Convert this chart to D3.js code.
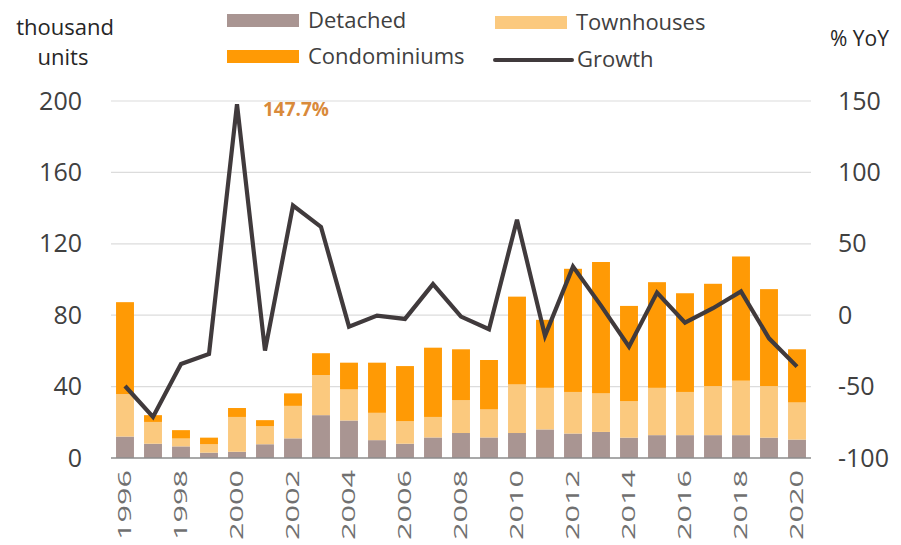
<!DOCTYPE html>
<html>
<head>
<meta charset="utf-8">
<script src="https://cdn.jsdelivr.net/npm/d3@7"></script>
<style>
  body { margin: 0; background: #fff; }
  text { font-family: "Open Sans", sans-serif; }
</style>
</head>
<body>
<div id="chart"></div>
<script>
// ============ Data ============
var years = d3.range(1996, 2021).map(String);
var yearTicks = ["1996","1998","2000","2002","2004","2006","2008","2010","2012","2014","2016","2018","2020"];

// thousand units
var detached = [12, 8, 6.5, 3, 3.5, 7.7, 11, 24, 21, 10, 8, 11.5, 14, 11.5, 14, 16, 13.7, 14.6, 11.4, 12.8, 12.8, 12.8, 12.8, 11.4, 10.3];
var townhouses = [23.8, 12.2, 4.4, 4.7, 19.5, 10.1, 18.2, 22.5, 17.4, 15.3, 12.6, 11.5, 18.4, 15.7, 27.2, 23.3, 23.3, 21.6, 20.4, 26.5, 24.2, 27.5, 30.5, 28.9, 20.8];
var condominiums = [51.5, 3.8, 4.7, 3.7, 5, 3.4, 7, 12.2, 15, 28.1, 30.9, 38.8, 28.5, 27.7, 49.2, 38.1, 69, 73.6, 53.4, 59.2, 55.3, 57.3, 69.6, 54.3, 29.8];

// % YoY
var growth = [-49.6, -71.2, -34.2, -27.2, 147.7, -24.8, 76.8, 61.8, -8, -0.3, -2.6, 21.8, -1, -9.8, 66.9, -14.5, 34, 6.7, -22, 15.9, -5.2, 4.9, 16.6, -16.2, -36];

var leftTicks = [0, 40, 80, 120, 160, 200];
var rightTicks = [-100, -50, 0, 50, 100, 150];
var seriesNames = ["Detached", "Townhouses", "Condominiums"];
var seriesColors = ["#a99592", "#fbc97e", "#ff9a05"];
var lineColor = "#403a3c";

//============ Set up chart =====================
var svgWidth = 901;
var svgHeight = 545;

var margin = { top: 101, right: 90, bottom: 87, left: 111 };
var width = svgWidth - margin.left - margin.right;
var height = svgHeight - margin.top - margin.bottom;

var svg = d3.select("#chart")
  .append("svg")
  .attr("width", svgWidth)
  .attr("height", svgHeight);

var chartGroup = svg.append("g")
  .attr("transform", `translate(${margin.left}, ${margin.top})`);

// build table for the stack
var table = years.map(function(y, i) {
  return { year: y, Detached: detached[i], Townhouses: townhouses[i], Condominiums: condominiums[i], growth: growth[i] };
});

var xScale = d3.scaleBand()
  .domain(years)
  .range([0, width])
  .paddingInner(0.36)
  .paddingOuter(0.18);

var yLeft = d3.scaleLinear().domain([0, 200]).range([height, 0]);
var yRight = d3.scaleLinear().domain([-100, 150]).range([height, 0]);

// gridlines
chartGroup.append("g")
  .selectAll("line")
  .data(leftTicks.slice(1))
  .enter()
  .append("line")
  .attr("x1", 0)
  .attr("x2", width)
  .attr("y1", d => yLeft(d))
  .attr("y2", d => yLeft(d))
  .attr("stroke", "#dcdcdc")
  .attr("stroke-width", 1.2);

// stacked bars
var stack = d3.stack().keys(seriesNames);
var layers = stack(table);

chartGroup.append("g")
  .selectAll("g")
  .data(layers)
  .enter()
  .append("g")
  .attr("fill", (d, i) => seriesColors[i])
  .selectAll("rect")
  .data(d => d)
  .enter()
  .append("rect")
  .attr("x", d => xScale(d.data.year))
  .attr("width", xScale.bandwidth())
  .attr("y", d => yLeft(d[1]))
  .attr("height", d => yLeft(d[0]) - yLeft(d[1]));

// baseline
chartGroup.append("line")
  .attr("x1", 0)
  .attr("x2", width)
  .attr("y1", yLeft(0))
  .attr("y2", yLeft(0))
  .attr("stroke", "#8c8c8c")
  .attr("stroke-width", 1.5);

// growth line
var growthLine = d3.line()
  .x(d => xScale(d.year) + xScale.bandwidth() / 2)
  .y(d => yRight(d.growth));

chartGroup.append("path")
  .datum(table)
  .attr("d", growthLine)
  .attr("fill", "none")
  .attr("stroke", lineColor)
  .attr("stroke-width", 4.2)
  .attr("stroke-linejoin", "miter");

// peak label
var peak = table[4];
chartGroup.append("text")
  .attr("x", xScale(peak.year) + xScale.bandwidth() / 2 + 26)
  .attr("y", yRight(peak.growth) + 12)
  .attr("fill", "#d98a3a")
  .attr("font-size", 19)
  .attr("font-weight", "bold")
  .text(peak.growth.toFixed(1) + "%");

// left axis
var leftAxis = d3.axisLeft(yLeft).tickValues(leftTicks).tickSize(0).tickPadding(29);
var gLeft = chartGroup.append("g").call(leftAxis);
gLeft.select(".domain").remove();
gLeft.selectAll("text")
  .attr("font-size", 25)
  .attr("fill", "#404040")
  .style("font-family", "'Open Sans', sans-serif");

// right axis (plain hyphen minus like the original)
var rightAxis = d3.axisRight(yRight)
  .tickValues(rightTicks)
  .tickFormat(d => String(d))
  .tickSize(0)
  .tickPadding(27);
var gRight = chartGroup.append("g")
  .attr("transform", `translate(${width}, 0)`)
  .call(rightAxis);
gRight.select(".domain").remove();
gRight.selectAll("text")
  .attr("font-size", 25)
  .attr("fill", "#404040")
  .style("font-family", "'Open Sans', sans-serif");

// x axis (rotated labels)
var bottomAxis = d3.axisBottom(xScale).tickValues(yearTicks).tickSize(0);
var gBottom = chartGroup.append("g")
  .attr("transform", `translate(0, ${height})`)
  .call(bottomAxis);
gBottom.select(".domain").remove();
gBottom.selectAll("text")
  .attr("transform", "rotate(-90)")
  .attr("x", -12)
  .attr("y", 0)
  .attr("dy", "0.36em")
  .attr("font-size", 18)
  .attr("fill", "#707070")
  .attr("textLength", 70)
  .attr("lengthAdjust", "spacingAndGlyphs")
  .style("text-anchor", "end")
  .style("font-family", "'Open Sans', sans-serif");

// axis titles
svg.append("text")
  .attr("x", 65).attr("y", 35)
  .attr("text-anchor", "middle")
  .attr("font-size", 22)
  .attr("fill", "#262626")
  .text("thousand");
svg.append("text")
  .attr("x", 63).attr("y", 65)
  .attr("text-anchor", "middle")
  .attr("font-size", 22)
  .attr("fill", "#262626")
  .text("units");
svg.append("text")
  .attr("x", 830).attr("y", 46)
  .attr("font-size", 21)
  .attr("fill", "#262626")
  .text("% YoY");

// legend
var legendItems = [
  { name: "Detached", color: seriesColors[0], type: "rect", x: 227, y: 21 },
  { name: "Townhouses", color: seriesColors[1], type: "rect", x: 495, y: 23 },
  { name: "Condominiums", color: seriesColors[2], type: "rect", x: 227, y: 57 },
  { name: "Growth", color: lineColor, type: "line", x: 495, y: 60 }
];

var legend = svg.append("g");
legendItems.forEach(function(item) {
  if (item.type === "rect") {
    legend.append("rect")
      .attr("x", item.x)
      .attr("y", item.y - 7)
      .attr("width", 72)
      .attr("height", 13)
      .attr("fill", item.color);
  } else {
    legend.append("line")
      .attr("x1", item.x)
      .attr("x2", item.x + 77)
      .attr("y1", item.y)
      .attr("y2", item.y)
      .attr("stroke", item.color)
      .attr("stroke-width", 4)
      .attr("stroke-linecap", "round");
  }
  legend.append("text")
    .attr("x", item.x + (item.type === "rect" ? 81 : 82))
    .attr("y", item.y - 1)
    .attr("dy", "0.35em")
    .attr("font-size", 22)
    .attr("fill", "#404040")
    .text(item.name);
});
</script>
</body>
</html>
